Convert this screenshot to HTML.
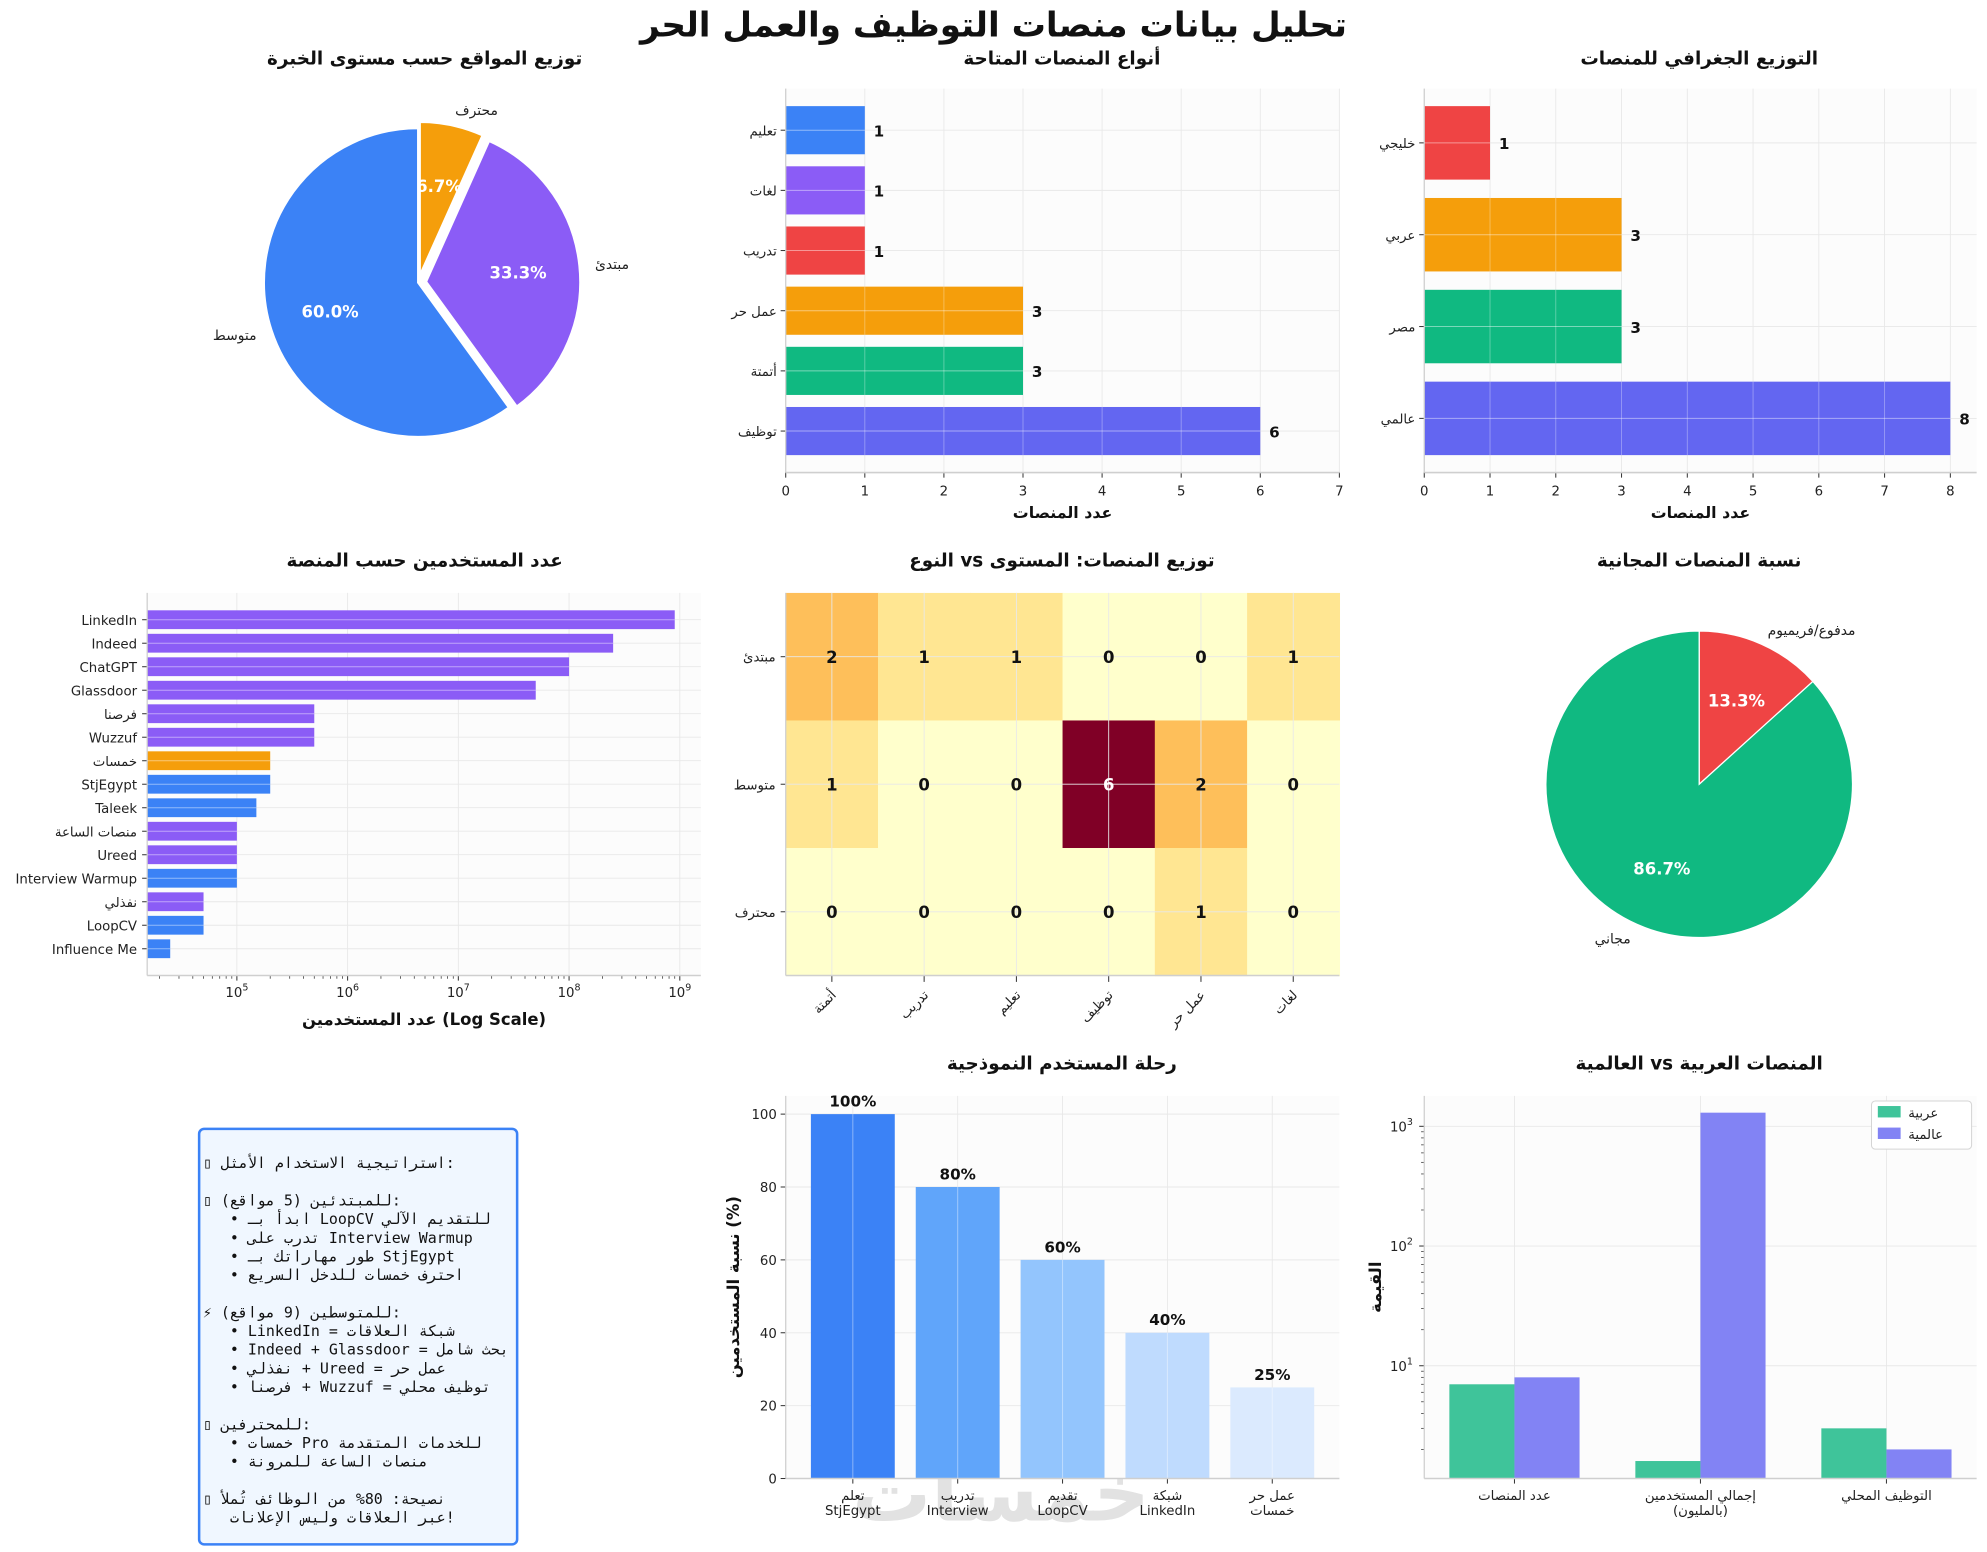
<!DOCTYPE html>
<html><head><meta charset="utf-8">
<style>
html,body{margin:0;padding:0;background:#fff;}
svg{display:block;font-family:"DejaVu Sans","Liberation Sans","Noto Sans CJK SC",sans-serif;}
</style></head>
<body>
<svg id="chart" width="1987" height="1552" viewBox="0 0 1568 1225" xmlns="http://www.w3.org/2000/svg">
<rect x="0" y="0" width="1568" height="1225" fill="#fff"/>
</svg>
<script>
// ---------- DATA ----------
const levelCats = ['محترف','مبتدئ','متوسط'];
const levelVals = [6.7, 33.3, 60.0];
const levelColors = ['#f59e0b','#8b5cf6','#3b82f6'];

const typeCats = ['توظيف','أتمتة','عمل حر','تدريب','لغات','تعليم'];
const typeVals = [6,3,3,1,1,1];
const typeColors = ['#6366f1','#10b981','#f59e0b','#ef4444','#8b5cf6','#3b82f6'];
const typeTicks = [0,1,2,3,4,5,6,7];

const geoCats = ['عالمي','مصر','عربي','خليجي'];
const geoVals = [8,3,3,1];
const geoColors = ['#6366f1','#10b981','#f59e0b','#ef4444'];
const geoTicks = [0,1,2,3,4,5,6,7,8];

const platNames = ['LinkedIn','Indeed','ChatGPT','Glassdoor','فرصنا','Wuzzuf','خمسات','StjEgypt','Taleek','منصات الساعة','Ureed','Interview Warmup','نفذلي','LoopCV','Influence Me'];
const platUsers = [900000000,250000000,100000000,50000000,500000,500000,200000,200000,150000,100000,100000,100000,50000,50000,25000];
const platColors = ['#8b5cf6','#8b5cf6','#8b5cf6','#8b5cf6','#8b5cf6','#8b5cf6','#f59e0b','#3b82f6','#3b82f6','#8b5cf6','#8b5cf6','#3b82f6','#8b5cf6','#3b82f6','#3b82f6'];
const logTicks = [5,6,7,8,9];

const heatRows = ['مبتدئ','متوسط','محترف'];
const heatCols = ['أتمتة','تدريب','تعليم','توظيف','عمل حر','لغات'];
const heatVals = [[2,1,1,0,0,1],[1,0,0,6,2,0],[0,0,0,0,1,0]];

const freeCats = ['مدفوع/فريميوم','مجاني'];
const freeVals = [13.3, 86.7];
const freeColors = ['#ef4444','#10b981'];

const journeySteps = [['تعلم','StjEgypt'],['تدريب','Interview'],['تقديم','LoopCV'],['شبكة','LinkedIn'],['عمل حر','خمسات']];
const journeyVals = [100,80,60,40,25];
const journeyColors = ['#3b82f6','#60a5fa','#93c5fd','#bfdbfe','#dbeafe'];
const journeyTicks = [0,20,40,60,80,100];

const cmpCats = [['عدد المنصات'],['إجمالي المستخدمين','(بالمليون)'],['التوظيف المحلي']];
const cmpArab = [7,1.6,3];
const cmpGlobal = [8,1300,2];
const cmpTicks = [1,2,3];

const tipLines = [
 '▯ استراتيجية الاستخدام الأمثل:','',
 '▯ للمبتدئين (5 مواقع):',
 '   • ابدأ بـ LoopCV للتقديم الآلي',
 '   • تدرب على Interview Warmup',
 '   • طور مهاراتك بـ StjEgypt',
 '   • احترف خمسات للدخل السريع','',
 '⚡ للمتوسطين (9 مواقع):',
 '   • LinkedIn = شبكة العلاقات',
 '   • Indeed + Glassdoor = بحث شامل',
 '   • نفذلي + Ureed = عمل حر',
 '   • فرصنا + Wuzzuf = توظيف محلي','',
 '▯ للمحترفين:',
 '   • خمسات Pro للخدمات المتقدمة',
 '   • منصات الساعة للمرونة','',
 '▯ نصيحة: 80% من الوظائف تُملأ',
 '   عبر العلاقات وليس الإعلانات!'];

// ---------- HELPERS ----------
const NS='http://www.w3.org/2000/svg';
const svg=document.getElementById('chart');
function el(tag,attrs,parent){const e=document.createElementNS(NS,tag);for(const k in attrs)e.setAttribute(k,attrs[k]);(parent||svg).appendChild(e);return e;}
function txt(s,attrs,parent){const e=el('text',attrs,parent);e.textContent=/ vs /.test(s)?'\u2067'+s+'\u2069':s;return e;}
function title(s,x,y,name){const t=txt(s,{x:x,y:y,'text-anchor':'middle','font-size':14.5,'font-weight':'bold',fill:'#111'});


return t;}
function axesBg(L,T,R,B,name){const r=el('rect',{x:L,y:T,width:R-L,height:B-T,fill:'#fcfcfc'});


}
function spines(L,T,R,B){const a=el('line',{x1:L,y1:T,x2:L,y2:B,stroke:'#cfcfcf','stroke-width':1});


const b=el('line',{x1:L,y1:B,x2:R,y2:B,stroke:'#cfcfcf','stroke-width':1.2});


}
function grid(x1,y1,x2,y2){el('line',{x1:x1,y1:y1,x2:x2,y2:y2,stroke:'#e8e8e8','stroke-width':0.7});}
function pieSlice(cx,cy,r,a0,a1){
 const p0=[cx+r*Math.cos(a0*Math.PI/180),cy-r*Math.sin(a0*Math.PI/180)];
 const p1=[cx+r*Math.cos(a1*Math.PI/180),cy-r*Math.sin(a1*Math.PI/180)];
 const large=(a0-a1)>180?1:0;
 return `M${cx},${cy} L${p0[0]},${p0[1]} A${r},${r} 0 ${large} 1 ${p1[0]},${p1[1]} Z`;}

const mt=txt('تحليل بيانات منصات التوظيف والعمل الحر',{x:784,y:29,'text-anchor':'middle','font-size':27,'font-weight':'bold',fill:'#111'});



// ---------- PIE 1 ----------
title('توزيع المواقع حسب مستوى الخبرة',335,51,'experience-pie-title');
(function(){
 const cx=330,cy=223,r=122;let a=90;const tot=levelVals.reduce((s,v)=>s+v,0);
 const explode=[5,6,0];
 levelVals.forEach((v,i)=>{
  const span=v/tot*360;const a0=a,a1=a-span;const mid=(a0+a1)/2*Math.PI/180;
  const ox=cx+explode[i]*Math.cos(mid),oy=cy-explode[i]*Math.sin(mid);
  const p=el('path',{d:pieSlice(ox,oy,r,a0,a1),fill:levelColors[i],stroke:'#fff','stroke-width':2});
  
  
  const lx=ox+r*1.1*Math.cos(mid),ly=oy-r*1.1*Math.sin(mid);
  const l=txt(levelCats[i],{x:lx,y:ly+4,'text-anchor':Math.cos(mid)>0.05?'start':(Math.cos(mid)<-0.05?'end':'middle'),'font-size':11,fill:'#222'});
  
  
  const px=ox+r*0.6*Math.cos(mid),py=oy-r*0.6*Math.sin(mid);
  const t=txt(v.toFixed(1)+'%',{x:px,y:py+5,'text-anchor':'middle','font-size':13,'font-weight':'bold',fill:'#fff'});
  
  
  a=a1;});
})();

// ---------- HBAR generic ----------
function hbar(o){
 const {L,T,R,B,cats,vals,colors,xmax,ticks,name}=o;
 axesBg(L,T,R,B,name+'-axes');
 const n=cats.length,unit=(B-T)/((n-0.2)*1.1),off=0.4+0.05*(n-0.2);
 const X=v=>L+v/xmax*(R-L), Y=i=>B-(i+off)*unit;
 ticks.forEach(t=>{grid(X(t),T,X(t),B);
  el('line',{x1:X(t),y1:B,x2:X(t),y2:B+4,stroke:'#333','stroke-width':0.8});
  const tl=txt(String(t),{x:X(t),y:B+18,'text-anchor':'middle','font-size':10.5,fill:'#222'});
  
  });
 cats.forEach((c,i)=>{grid(L,Y(i),R,Y(i));});
 cats.forEach((c,i)=>{
  const b=el('rect',{x:L,y:Y(i)-0.4*unit,width:X(vals[i])-L,height:0.8*unit,fill:colors[i]});
  
  
  el('line',{x1:L,y1:Y(i),x2:X(vals[i]),y2:Y(i),stroke:'#ffffff','stroke-opacity':0.45,'stroke-width':0.8});
  ticks.forEach(t=>{if(X(t)<X(vals[i])&&t>0)el('line',{x1:X(t),y1:Y(i)-0.4*unit,x2:X(t),y2:Y(i)+0.4*unit,stroke:'#fff','stroke-opacity':0.35,'stroke-width':0.7});});
  el('line',{x1:L-4,y1:Y(i),x2:L,y2:Y(i),stroke:'#333','stroke-width':0.8});
  const cl=txt(c,{x:L-7,y:Y(i)+4,'text-anchor':'end','font-size':10.5,fill:'#222'});
  
  
  const vl=txt(String(vals[i]),{x:X(vals[i])+7,y:Y(i)+5,'font-size':12,'font-weight':'bold',fill:'#111'});
  
  });
 spines(L,T,R,B);
 const xl=txt('عدد المنصات',{x:(L+R)/2,y:B+36,'text-anchor':'middle','font-size':12.5,'font-weight':'bold',fill:'#111'});
 
 
}
title('أنواع المنصات المتاحة',838,51,'types-chart-title');
hbar({L:620,T:70,R:1057,B:373,cats:typeCats,vals:typeVals,colors:typeColors,xmax:7,ticks:typeTicks,name:'types'});
title('التوزيع الجغرافي للمنصات',1341,51,'geo-chart-title');
hbar({L:1124,T:70,R:1560,B:373,cats:geoCats,vals:geoVals,colors:geoColors,xmax:8.4,ticks:geoTicks,name:'geo'});

// ---------- LOG HBAR users ----------
title('عدد المستخدمين حسب المنصة',335,447,'users-chart-title');
(function(){
 const L=116,T=468,R=553,B=770;axesBg(L,T,R,B,'users-axes');
 const lmin=4.19,lmax=9.19;const X=v=>L+(Math.log10(v)-lmin)/(lmax-lmin)*(R-L);
 const n=platNames.length,unit=(B-T)/((n-0.2)*1.1),off=0.4+0.05*(n-0.2);
 const Y=i=>B-((n-1-i)+off)*unit;
 logTicks.forEach(d=>{const x=X(Math.pow(10,d));grid(x,T,x,B);
  el('line',{x1:x,y1:B,x2:x,y2:B+4,stroke:'#333','stroke-width':0.8});
  const t=el('text',{x:x,y:B+17,'text-anchor':'middle','font-size':10.5,fill:'#222'});
  
  
  t.textContent='10';const s=el('tspan',{dy:-5,'font-size':7.5},t);s.textContent=String(d);
  for(let m=2;m<10;m++){const xm=X(m*Math.pow(10,d-1));if(xm>L&&xm<R)el('line',{x1:xm,y1:B,x2:xm,y2:B+2.5,stroke:'#333','stroke-width':0.6});
   const xm2=X(m*Math.pow(10,d));if(d===9&&xm2<R)el('line',{x1:xm2,y1:B,x2:xm2,y2:B+2.5,stroke:'#333','stroke-width':0.6});}});
 platNames.forEach((p,i)=>{grid(L,Y(i),R,Y(i));
  const b=el('rect',{x:L,y:Y(i)-0.4*unit,width:X(platUsers[i])-L,height:0.8*unit,fill:platColors[i]});
  
  
  el('line',{x1:L,y1:Y(i),x2:X(platUsers[i]),y2:Y(i),stroke:'#fff','stroke-opacity':0.45,'stroke-width':0.8});
  el('line',{x1:L-4,y1:Y(i),x2:L,y2:Y(i),stroke:'#333','stroke-width':0.8});
  const l=txt(p,{x:L-8,y:Y(i)+4,'text-anchor':'end','font-size':10.5,fill:'#222'});
  
  });
 spines(L,T,R,B);
 const xl=txt('عدد المستخدمين (Log Scale)',{x:(L+R)/2,y:B+39,'text-anchor':'middle','font-size':13,'font-weight':'bold',fill:'#111'});
 
 
})();

// ---------- HEATMAP ----------
title('توزيع المنصات: المستوى vs النوع',838,447,'heatmap-title');
(function(){
 const L=620,T=468,R=1057,B=770;const cw=(R-L)/heatCols.length,rh=(B-T)/heatRows.length;
 const stops=[[0,[255,255,204]],[0.125,[255,237,160]],[0.25,[254,217,118]],[0.375,[254,178,76]],[0.5,[253,141,60]],[0.625,[252,78,42]],[0.75,[227,26,28]],[0.875,[189,0,38]],[1,[128,0,38]]];
 const cmap=t=>{for(let k=1;k<stops.length;k++){if(t<=stops[k][0]){const a=stops[k-1],b=stops[k];const f=(t-a[0])/(b[0]-a[0]);return 'rgb('+a[1].map((c,j)=>Math.round(c+(b[1][j]-c)*f)).join(',')+')';}}return 'rgb(128,0,38)';};
 const vmax=Math.max(...heatVals.flat());
 heatVals.forEach((row,r)=>row.forEach((v,c)=>{
  const cell=el('rect',{x:L+c*cw,y:T+r*rh,width:cw+0.5,height:rh+0.5,fill:cmap(v/vmax)});
  
  
 }));
 heatCols.forEach((c,i)=>{const x=L+(i+0.5)*cw;grid(x,T,x,B);});
 heatRows.forEach((rw,i)=>{const y=T+(i+0.5)*rh;grid(L,y,R,y);});
 heatVals.forEach((row,r)=>row.forEach((v,c)=>{
  const t=txt(String(v),{x:L+(c+0.5)*cw,y:T+(r+0.5)*rh+5,'text-anchor':'middle','font-size':13,'font-weight':'bold',fill:v/vmax>0.6?'#fff':'#111'});
  
  }));
 heatCols.forEach((c,i)=>{const x=L+(i+0.5)*cw;
  el('line',{x1:x,y1:B,x2:x,y2:B+5,stroke:'#333','stroke-width':0.8});
  const t=txt(c,{x:x+4,y:B+16,'text-anchor':'end','font-size':10.5,fill:'#222',transform:`rotate(-45 ${x+4} ${B+16})`});
  
  });
 heatRows.forEach((rw,i)=>{const y=T+(i+0.5)*rh;
  el('line',{x1:L-4,y1:y,x2:L,y2:y,stroke:'#333','stroke-width':0.8});
  const t=txt(rw,{x:L-8,y:y+4,'text-anchor':'end','font-size':10.5,fill:'#222'});
  
  });
 spines(L,T,R,B);
})();

// ---------- PIE 2 ----------
title('نسبة المنصات المجانية',1341,447,'free-pie-title');
(function(){
 const cx=1341,cy=619,r=121;let a=90;const tot=freeVals.reduce((s,v)=>s+v,0);
 freeVals.forEach((v,i)=>{const span=v/tot*360,a0=a,a1=a-span,mid=(a0+a1)/2*Math.PI/180;
  const p=el('path',{d:pieSlice(cx,cy,r,a0,a1),fill:freeColors[i],stroke:'#fff','stroke-width':1});
  
  
  const lx=cx+r*1.1*Math.cos(mid),ly=cy-r*1.1*Math.sin(mid);
  const l=txt(freeCats[i],{x:lx,y:ly+4,'text-anchor':Math.cos(mid)>0?'start':'end','font-size':11,fill:'#222'});
  
  
  const t=txt(v.toFixed(1)+'%',{x:cx+r*0.6*Math.cos(mid),y:cy-r*0.6*Math.sin(mid)+5,'text-anchor':'middle','font-size':13,'font-weight':'bold',fill:'#fff'});
  
  
  a=a1;});
})();

// ---------- TEXT BOX ----------
(function(){
 const box=el('rect',{x:157,y:891,width:251,height:328,rx:4,fill:'#f0f7ff',stroke:'#3b82f6','stroke-width':2});
 
 
 tipLines.forEach((ln,i)=>{if(!ln)return;
  const t=txt(ln,{x:160,y:922+i*14.73,'font-size':11.8,'font-family':'"DejaVu Sans Mono","Liberation Mono",monospace',fill:'#111',style:'white-space:pre'});
  
  });
})();

// ---------- JOURNEY ----------
title('رحلة المستخدم النموذجية',838,844,'journey-title');
(function(){
 const L=620,T=865,R=1057,B=1167;axesBg(L,T,R,B,'journey-axes');
 const wm=txt('خمسات',{x:790,y:1200,'text-anchor':'middle','font-size':62,'font-weight':'bold',fill:'#e2e2e2'});
 
 
 const n=journeyVals.length,unit=(R-L)/((n-0.2)*1.1),off=0.4+0.05*(n-0.2);
 const X=i=>L+(i+off)*unit,Y=v=>B-v/105*(B-T);
 journeyTicks.forEach(t=>{grid(L,Y(t),R,Y(t));el('line',{x1:L-4,y1:Y(t),x2:L,y2:Y(t),stroke:'#333','stroke-width':0.8});
  const tl=txt(String(t),{x:L-7,y:Y(t)+4,'text-anchor':'end','font-size':10.5,fill:'#222'});
  
  });
 journeyVals.forEach((v,i)=>{grid(X(i),T,X(i),B);
  const b=el('rect',{x:X(i)-0.4*unit,y:Y(v),width:0.8*unit,height:B-Y(v),fill:journeyColors[i]});
  
  
  el('line',{x1:X(i),y1:Y(v),x2:X(i),y2:B,stroke:'#fff','stroke-opacity':0.4,'stroke-width':0.8});
  const vl=txt(v+'%',{x:X(i),y:Y(v)-6,'text-anchor':'middle','font-size':12,'font-weight':'bold',fill:'#111'});
  
  
  el('line',{x1:X(i),y1:B,x2:X(i),y2:B+4,stroke:'#333','stroke-width':0.8});
  journeySteps[i].forEach((s,k)=>{const t=txt(s,{x:X(i),y:B+17+k*12,'text-anchor':'middle','font-size':10.5,fill:'#222'});
   
   });});
 spines(L,T,R,B);
 const yl=txt('نسبة المستخدمين (%)',{x:0,y:0,'text-anchor':'middle','font-size':13,'font-weight':'bold',fill:'#111',transform:`translate(583 ${(T+B)/2}) rotate(-90)`});
 
 
})();

// ---------- COMPARISON ----------
title('المنصات العربية vs العالمية',1341,844,'comparison-title');
(function(){
 const L=1124,T=865,R=1560,B=1167;axesBg(L,T,R,B,'comparison-axes');
 const lmin=0.058,lmax=3.254;const Y=v=>B-(Math.log10(v)-lmin)/(lmax-lmin)*(B-T);
 const unit=(R-L)/(2.7*1.1),X=g=>L+(g+0.35+0.135)*unit;
 cmpTicks.forEach(d=>{const y=Y(Math.pow(10,d));grid(L,y,R,y);el('line',{x1:L-4,y1:y,x2:L,y2:y,stroke:'#333','stroke-width':0.8});
  const t=el('text',{x:L-18,y:y+4,'text-anchor':'middle','font-size':10.5,fill:'#222'});
  
  
  t.textContent='10';const s=el('tspan',{dy:-5,'font-size':7.5},t);s.textContent=String(d);
  for(let m=2;m<10;m++){const ym=Y(m*Math.pow(10,d-1));if(ym<B&&ym>T)el('line',{x1:L-2.5,y1:ym,x2:L,y2:ym,stroke:'#333','stroke-width':0.6});}
  if(d===3){const ym=Y(2000);if(ym>T)el('line',{x1:L-2.5,y1:ym,x2:L,y2:ym,stroke:'#333','stroke-width':0.6});}});
 cmpCats.forEach((c,g)=>{grid(X(g),T,X(g),B);
  const a=el('rect',{x:X(g)-0.35*unit,y:Y(cmpArab[g]),width:0.35*unit,height:B-Y(cmpArab[g]),fill:'#3fc49a'});
  
  
  const w=el('rect',{x:X(g),y:Y(cmpGlobal[g]),width:0.35*unit,height:B-Y(cmpGlobal[g]),fill:'#8283f4'});
  
  
  el('line',{x1:X(g),y1:B,x2:X(g),y2:B+4,stroke:'#333','stroke-width':0.8});
  c.forEach((s,k)=>{const t=txt(s,{x:X(g),y:B+17+k*12,'text-anchor':'middle','font-size':10.5,fill:'#222'});
   
   });});
 spines(L,T,R,B);
 const yl=txt('القيمة',{x:0,y:0,'text-anchor':'middle','font-size':13,'font-weight':'bold',fill:'#111',transform:`translate(1090 ${(T+B)/2}) rotate(-90)`});
 
 
 const lg=el('rect',{x:1477,y:869,width:79,height:38,rx:3,fill:'#fff',stroke:'#d5d5d5','stroke-width':0.8});
 
 
 [['عربية','#3fc49a'],['عالمية','#8283f4']].forEach((e,k)=>{
  const sw=el('rect',{x:1482,y:873+k*17,width:18,height:9,fill:e[1]});
  
  
  const t=txt(e[0],{x:1506,y:882+k*17,'font-size':10.5,fill:'#222'});
  
  });
})();
</script>
</body></html>
